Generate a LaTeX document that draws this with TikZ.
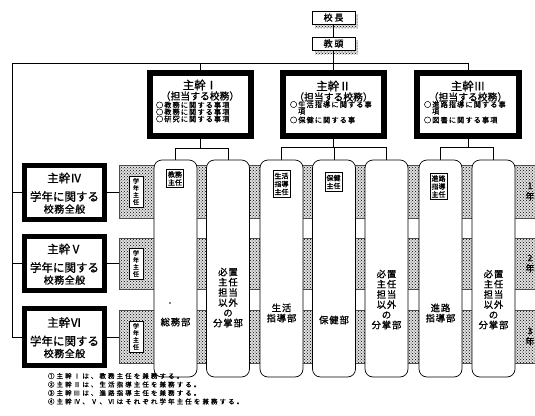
\documentclass[tikz,border=0pt]{standalone}
\usepackage{fontspec}
\setmainfont{Noto Sans CJK JP}[FakeBold=0.9]
\usetikzlibrary{patterns}
\newcommand\fsz[2]{\fontsize{#1}{#2}\selectfont}
\newcommand\lsp[1]{\addfontfeatures{LetterSpace=#1}}
\tikzset{
  x=1pt,y=-1pt,
  every node/.style={inner sep=0pt,outer sep=auto},
  conn/.style={line width=0.6pt},
  stip/.style={pattern=crosshatch dots,pattern color=black},
  stipbg/.style={fill=black!12},
  bandline/.style={line width=0.4pt,draw=black!70},
  topbox/.style={draw,line width=0.7pt,fill=white,minimum width=43pt,minimum height=13pt,font=\fsz{9}{9}\lsp{20}},
  chief/.style={draw,line width=6pt,fill=white,minimum width=101pt,minimum height=63pt},
  grade/.style={draw,line width=5pt,fill=white,minimum width=80pt},
  dept/.style={draw,line width=0.7pt,fill=white,rounded corners=8pt,minimum width=43pt,minimum height=217pt},
  ttl/.style={font=\fsz{11.5}{11.5}},
  sub/.style={font=\fsz{9.8}{10}},
  itm/.style={anchor=west,font=\fsz{7.2}{7.2}\lsp{15}},
  gtxt/.style={font=\fsz{11.5}{12}},
  gtxt2/.style={font=\fsz{10}{10}\lsp{5}},
  dlabel/.style={align=center,font=\fsz{9.3}{10.2}\lsp{10}},
  chiefsmall/.style={draw,line width=0.6pt,fill=white,align=center,inner xsep=1.5pt,inner ysep=2pt,font=\fsz{7}{8}},
  gkwhite/.style={draw,line width=0.6pt,fill=white,align=center,minimum width=14pt,minimum height=31pt,font=\fsz{6}{7}},
  year/.style={align=center,font=\fsz{9}{10.5}},
  note/.style={anchor=west,font=\fsz{6.5}{6.5}\lsp{32}}
}
\begin{document}
\begin{tikzpicture}
\useasboundingbox (0,0) rectangle (535,415);

% ---- top: principal and vice-principal with stippled shadows
\fill[stipbg] (315,14) rectangle (358,28);
\fill[stip] (315,14) rectangle (358,28);
\node[topbox] (kocho) at (333.5,17.5) {校長};
\fill[stipbg] (315,40) rectangle (358,54);
\fill[stip] (315,40) rectangle (358,54);
\node[topbox] (kyoto) at (333.5,43.5) {教頭};

% ---- bus
\coordinate (busL) at (12,63);
\coordinate (busR) at (468,63);

% ---- chief boxes I, II, III
\node[chief] (m1) at (200,104.5) {};
\node[chief] (m2) at (333.5,104.5) {};
\node[chief,minimum width=102pt] (m3) at (468,104.5) {};

\node[ttl] (m1t) at (200,85) {主幹Ⅰ};
\node[sub] (m1s) at (200,96) {（担当する校務）};
\node[itm] (m1a) at (156,105) {○教務に関する事項};
\node[itm] (m1b) at (156,112) {○教務に関する事項};
\node[itm] (m1c) at (156,119) {○研究に関する事項};

\node[ttl] (m2t) at (333.5,86) {主幹Ⅱ};
\node[sub] (m2s) at (333.5,97) {（担当する校務）};
\node[itm] (m2a) at (290,104.5) {○生活指導に関する事};
\node[itm] (m2b) at (298,111.5) {項};
\node[itm] (m2c) at (290,120) {○保健に関する事};

\node[ttl] (m3t) at (468,86) {主幹Ⅲ};
\node[sub] (m3s) at (468,97) {（担当する校務）};
\node[itm] (m3a) at (424,104.5) {○進路指導に関する事};
\node[itm] (m3b) at (432,111.5) {項};
\node[itm] (m3c) at (424,120) {○図書に関する事項};

% ---- grade bands (stippled)
\foreach \ya/\yb in {165/218,238/289,310/363}{
  \fill[stipbg] (119,\ya) rectangle (545,\yb);
  \fill[stip] (119,\ya) rectangle (545,\yb);
  \draw[bandline] (545,\ya) -- (119,\ya) -- (119,\yb) -- (545,\yb);
}
\node[minimum width=34pt,minimum height=53pt] (g1) at (136,191.5) {};
\node[minimum width=34pt,minimum height=51pt] (g2) at (136,263.5) {};
\node[minimum width=34pt,minimum height=53pt] (g3) at (136,336.5) {};
\node[gkwhite] (g1w) at (g1) {学\\年\\主\\任};
\node[gkwhite] (g2w) at (g2) {学\\年\\主\\任};
\node[gkwhite] (g3w) at (g3) {学\\年\\主\\任};

\node[year] (y1) at (530,191.5) {1\\年};
\node[year] (y2) at (530,263.5) {2\\年};
\node[year] (y3) at (530,336.5) {3\\年};

% ---- grade chief boxes IV, V, VI
\node[grade,minimum height=54pt] (m4) at (64.5,192.5) {};
\node[grade,minimum height=54pt] (m5) at (64.5,263.5) {};
\node[grade,minimum height=57pt] (m6) at (64.5,337) {};
\foreach \n/\r/\c in {m4/Ⅳ/192.5,m5/Ⅴ/263.5,m6/Ⅵ/337}{
  \node[gtxt] (\n t) at (64.5,\c-14.5) {主幹\r};
  \node[gtxt] (\n a) at (64.5,\c+4) {学年に関する};
  \node[gtxt2] (\n b) at (64.5,\c+16.5) {校務全般};
}

% ---- department columns
\node[dept] (c1) at (175.5,268.5) {};
\node[dept] (c2) at (228,268.5) {};
\node[dept] (c3) at (281.5,268.5) {};
\node[dept] (c4) at (334,268.5) {};
\node[dept] (c5) at (386.5,268.5) {};
\node[dept] (c6) at (440.5,268.5) {};
\node[dept] (c7) at (493.5,268.5) {};

\node[chiefsmall] (s1) at (175,178.5) {教務\\主任};
\node[chiefsmall] (s3) at (281.5,184) {生活\\指導\\主任};
\node[chiefsmall] (s4) at (333.5,182) {保健\\主任};
\node[chiefsmall] (s6) at (438.5,186.5) {進路\\指導\\主任};

\fill (170,303) circle (0.9);
\node[dlabel] (d1) at (175.5,322) {総務部};
\node[dlabel] (d2) at (228,297.5) {必置\\主任\\担当\\以外\\の\\分掌部};
\node[dlabel] (d3) at (281.5,313) {生活\\指導部};
\node[dlabel] (d4) at (334,320) {保健部};
\node[dlabel] (d5) at (386.5,299.5) {必置\\主任\\担当\\以外\\の\\分掌部};
\node[dlabel] (d6) at (440.5,313) {進路\\指導部};
\node[dlabel] (d7) at (493.5,299.5) {必置\\主任\\担当\\以外\\の\\分掌部};

% ---- connectors
\draw[conn] (kocho) -- (kyoto);
\draw[conn] (kyoto.south) -- (m2.north);
\draw[conn] (busL) -- (busR) -- (m3.north);
\draw[conn] (m1.north |- busL) -- (m1.north);
\draw[conn] (busL) -- (busL |- m6.west) -- (m6.west);
\draw[conn] (busL |- m4.west) -- (m4.west);
\draw[conn] (busL |- m5.west) -- (m5.west);
\draw[conn] (m4.east) -- (m4.east -| g1.west);
\draw[conn] (m5.east) -- (m5.east -| g2.west);
\draw[conn] (m6.east) -- (m6.east -| g3.west);

\coordinate (h1) at (200,148);
\coordinate (h2) at (333.5,147);
\coordinate (h3) at (468,147);
\draw[conn] (m1.south) -- (h1);
\draw[conn] (c1.north |- h1) -- (c2.north |- h1);
\draw[conn] (c1.north |- h1) -- (c1.north);
\draw[conn] (c2.north |- h1) -- (c2.north);
\draw[conn] (m2.south) -- (h2);
\draw[conn] (c3.north |- h2) -- (c5.north |- h2);
\draw[conn] (c3.north |- h2) -- (c3.north);
\draw[conn] (c4.north |- h2) -- (c4.north);
\draw[conn] (c5.north |- h2) -- (c5.north);
\draw[conn] (m3.south) -- (h3);
\draw[conn] (c6.north |- h3) -- (c7.north |- h3);
\draw[conn] (c6.north |- h3) -- (c6.north);
\draw[conn] (c7.north |- h3) -- (c7.north);

% ---- notes
\node[note] (n1) at (48,376) {①主幹Ⅰは、教務主任を兼務する。};
\node[note] (n2) at (48,384.5) {②主幹Ⅱは、生活指導主任を兼務する。};
\node[note] (n3) at (48,393) {③主幹Ⅲは、進路指導主任を兼務する。};
\node[note] (n4) at (48,401.5) {④主幹Ⅳ、Ⅴ、Ⅵはそれぞれ学年主任を兼務する。};
\end{tikzpicture}
\end{document}
